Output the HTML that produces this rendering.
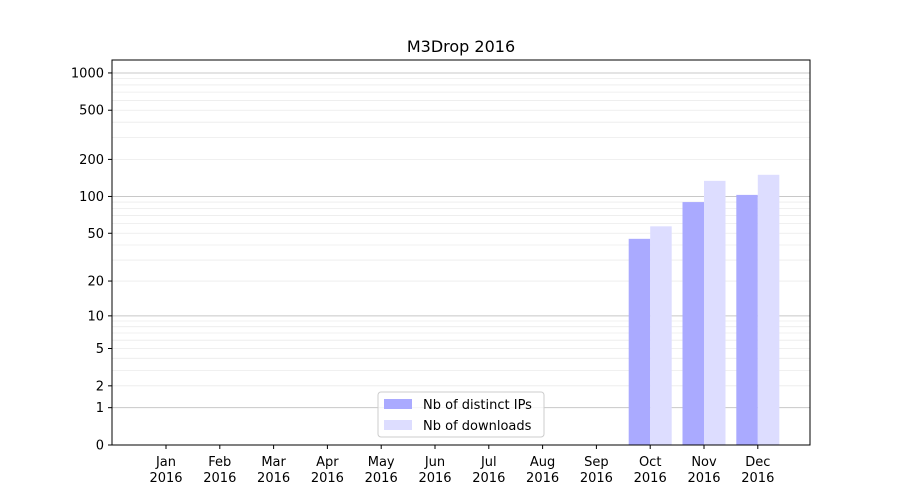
<!DOCTYPE html>
<html><head><meta charset="utf-8"><style>
body{margin:0;background:#fff}
svg{display:block;font-family:"DejaVu Sans","Liberation Sans",sans-serif}
</style></head><body>
<svg id="s" width="900" height="500" xmlns="http://www.w3.org/2000/svg">
<rect width="900" height="500" fill="#fff"/>
<g id="grid"></g>
<g id="bars"></g>
<rect x="112" y="60" width="698" height="385" fill="none" stroke="#000" stroke-width="1"/>
<g id="ticks" font-size="13" fill="#000"></g>
<text x="461" y="52" font-size="16" text-anchor="middle">M3Drop 2016</text>
<g>
<rect x="378" y="392" width="166" height="45" rx="3" fill="#fff" fill-opacity="0.8" stroke="#ccc"/>
<rect x="384" y="399" width="28" height="10" fill="#aaaaff"/>
<text x="423" y="409" font-size="13">Nb of distinct IPs</text>
<rect x="384" y="420" width="28" height="10" fill="#ddddff"/>
<text x="423" y="430" font-size="13">Nb of downloads</text>
</g>
</svg>
<script>
const ns="http://www.w3.org/2000/svg";
function Y(v){return 445-124*Math.log10(1+v);}
function el(p,t,a,txt){const e=document.createElementNS(ns,t);for(const k in a)e.setAttribute(k,a[k]);if(txt!==undefined)e.textContent=txt;document.getElementById(p).appendChild(e);}
// minor grid
for(const d of [1,10,100]){for(let m=2;m<=9;m++){const y=Y(m*d);el("grid","line",{x1:112,x2:810,y1:y,y2:y,stroke:"#ebebeb","stroke-width":0.8});}}
for(const v of [1,10,100,1000]){const y=Y(v);el("grid","line",{x1:112,x2:810,y1:y,y2:y,stroke:"#c8c8c8","stroke-width":1});}
// y ticks
for(const v of [0,1,2,5,10,20,50,100,200,500,1000]){const y=Y(v);el("ticks","line",{x1:108,x2:112,y1:y,y2:y,stroke:"#000"});el("ticks","text",{x:104,y:y+4.5,"text-anchor":"end"},String(v));}
const mon=["Jan","Feb","Mar","Apr","May","Jun","Jul","Aug","Sep","Oct","Nov","Dec"];
for(let i=0;i<12;i++){const x=166+i*53.8;el("ticks","line",{x1:x,x2:x,y1:445,y2:449,stroke:"#000"});el("ticks","text",{x:x,y:466,"text-anchor":"middle"},mon[i]);el("ticks","text",{x:x,y:482,"text-anchor":"middle"},"2016");}
const data=[[9,45,57],[10,90,134],[11,103,150]];
for(const [i,a,b] of data){const x=166+i*53.8;
el("bars","rect",{x:x-21.5,y:Y(a),width:21.5,height:445-Y(a),fill:"#aaaaff"});
el("bars","rect",{x:x,y:Y(b),width:21.5,height:445-Y(b),fill:"#ddddff"});}
</script>
</body></html>
